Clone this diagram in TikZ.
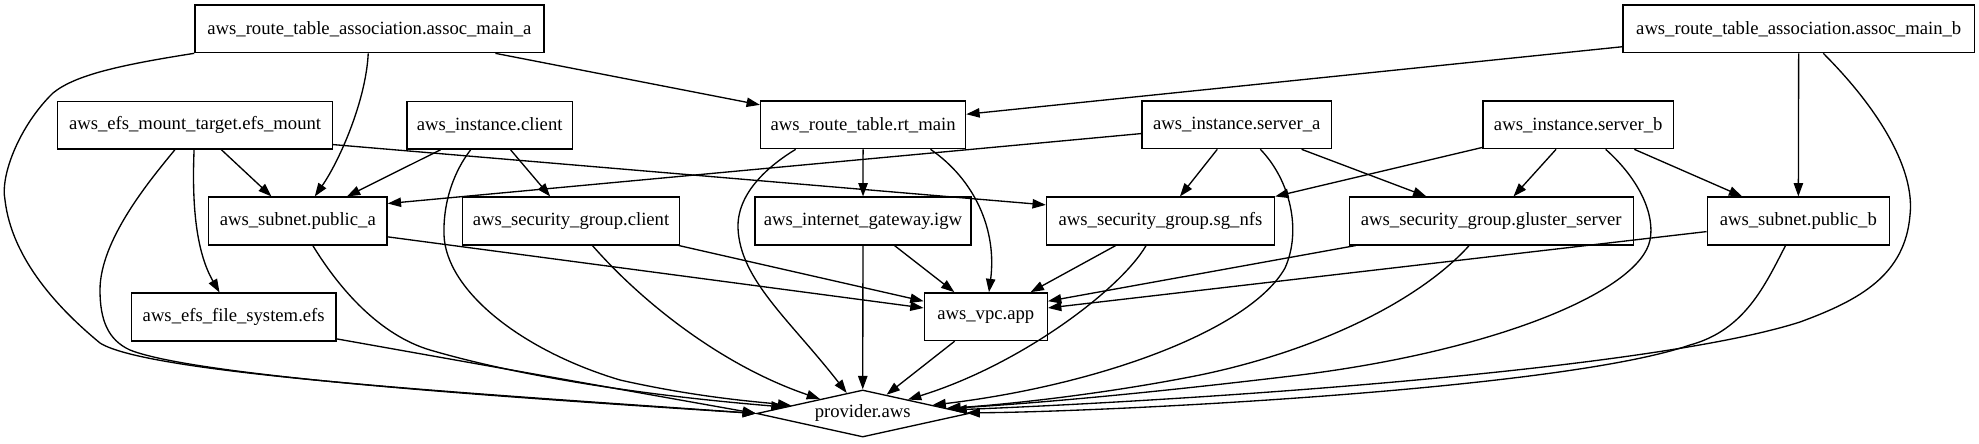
\documentclass[tikz,border=0pt]{standalone}
\usepackage{fontspec}
\setmainfont{Liberation Serif}
\usetikzlibrary{shapes.geometric,arrows.meta}
\begin{document}
\begin{tikzpicture}[x=0.75pt,y=-0.75pt,
  box/.style={draw, line width=1pt, rectangle, minimum height=35.8pt, inner sep=0pt, font=\fontsize{14pt}{17pt}\selectfont},
  prv/.style={draw, line width=1pt, diamond, aspect=4.5, minimum width=159pt, minimum height=35.3pt, inner sep=0pt, font=\fontsize{14pt}{17pt}\selectfont},
  edge/.style={line width=1pt, -{Triangle[length=10pt,width=7pt]}}]
\useasboundingbox (0,0) rectangle (1979,443);
\fill[white] (0,0) rectangle (1979,443);
% row 1
\node[box, minimum width=261.8pt] (ama) at (369.4,28.8) {aws\_route\_table\_association.assoc\_main\_a};
\node[box, minimum width=263.6pt] (amb) at (1798.7,28.8) {aws\_route\_table\_association.assoc\_main\_b};
% row 2
\node[box, minimum width=206.1pt] (efsm) at (195.1,125.2) {aws\_efs\_mount\_target.efs\_mount};
\node[box, minimum width=124.1pt] (cli) at (489.7,125.2) {aws\_instance.client};
\node[box, minimum width=153.8pt] (rt) at (863.1,124.8) {aws\_route\_table.rt\_main};
\node[box, minimum width=142.1pt] (sa) at (1236.7,124.8) {aws\_instance.server\_a};
\node[box, minimum width=143pt] (sb) at (1578.2,124.8) {aws\_instance.server\_b};
% row 3
\node[box, minimum width=133.9pt] (pa) at (297.8,221) {aws\_subnet.public\_a};
\node[box, minimum width=162.9pt] (sgc) at (571,221) {aws\_security\_group.client};
\node[box, minimum width=161.9pt] (igw) at (863,221) {aws\_internet\_gateway.igw};
\node[box, minimum width=171pt] (nfs) at (1160.5,221) {aws\_security\_group.sg\_nfs};
\node[box, minimum width=212.8pt] (glu) at (1491.3,221) {aws\_security\_group.gluster\_server};
\node[box, minimum width=136.7pt] (pb) at (1798.3,221) {aws\_subnet.public\_b};
% row 4
\node[box, minimum width=153.2pt] (efs) at (233.7,317) {aws\_efs\_file\_system.efs};
\node[box, minimum width=92.3pt] (vpc) at (985.8,316.7) {aws\_vpc.app};
% row 5
\node[prv] (prov) at (862.7,413.5) {provider.aws};

% edges from assoc_main_a
\draw[edge] (ama) -- (rt);
\draw[edge] (ama) .. controls (366,100) and (340,160) .. (pa);
\draw[edge] (ama.south west) .. controls (120,65) and (75,75) .. (53,93) .. controls (20,125) and (0,175) .. (5,200) .. controls (12,260) and (60,310) .. (100,343) .. controls (150,375) and (500,395) .. (prov.west);
% edges from assoc_main_b
\draw[edge] (amb) -- (rt);
\draw[edge] (amb) -- (pb);
\draw[edge] (amb) .. controls (1880,110) and (1915,170) .. (1910,215) .. controls (1905,275) and (1860,300) .. (1800,322) .. controls (1650,370) and (1200,400) .. (prov);
% edges from efs_mount
\draw[edge] (efsm) -- (pa);
\draw[edge] (efsm.-8) -- (nfs.172);
\draw[edge] (efsm) .. controls (192,200) and (195,250) .. (efs);
\draw[edge] (efsm) .. controls (150,180) and (100,240) .. (100,290) .. controls (100,320) and (108,340) .. (130,350) .. controls (200,378) and (550,400) .. (prov.west);
% edges from instance.client
\draw[edge] (cli) -- (pa);
\draw[edge] (cli) -- (sgc);
\draw[edge] (cli) .. controls (455,170) and (443,200) .. (444,235) .. controls (446,290) and (520,350) .. (620,380) .. controls (700,398) and (760,402) .. (prov);
% edges from rt_main
\draw[edge] (rt) -- (igw);
\draw[edge] (rt.-20) .. controls (975,180) and (997,230) .. (vpc);
\draw[edge] (rt.-160) .. controls (765,168) and (737,195) .. (738,228) .. controls (740,280) and (790,320) .. (prov);
% edges from server_a
\draw[edge] (sa) -- (pa.11);
\draw[edge] (sa) -- (nfs);
\draw[edge] (sa) -- (glu);
\draw[edge] (sa) .. controls (1290,180) and (1302,230) .. (1285,268) .. controls (1250,330) and (1100,385) .. (prov);
% edges from server_b
\draw[edge] (sb) -- (nfs.north east);
\draw[edge] (sb) -- (glu);
\draw[edge] (sb) -- (pb);
\draw[edge] (sb) .. controls (1640,180) and (1655,215) .. (1650,240) .. controls (1640,290) and (1500,350) .. (1300,375) .. controls (1150,393) and (1040,403) .. (prov);
% row 3 edges
\draw[edge] (pa.-10) -- (vpc.172);
\draw[edge] (pa) .. controls (340,290) and (380,335) .. (430,350) .. controls (550,385) and (700,400) .. (prov);
\draw[edge] (sgc) -- (vpc.166);
\draw[edge] (sgc) .. controls (640,300) and (720,365) .. (prov);
\draw[edge] (igw) -- (vpc);
\draw[edge] (igw) -- (prov);
\draw[edge] (nfs) -- (vpc);
\draw[edge] (nfs) .. controls (1120,290) and (1020,365) .. (prov);
\draw[edge] (glu) -- (vpc.14);
\draw[edge] (glu) .. controls (1420,300) and (1320,350) .. (1200,375) .. controls (1100,395) and (1000,405) .. (prov);
\draw[edge] (pb) -- (vpc.8);
\draw[edge] (pb) .. controls (1765,285) and (1745,330) .. (1690,345) .. controls (1560,390) and (1100,412) .. (prov);
% row 4 edges
\draw[edge] (efs.-12) -- (prov.west);
\draw[edge] (vpc) -- (prov);
\end{tikzpicture}
\end{document}
